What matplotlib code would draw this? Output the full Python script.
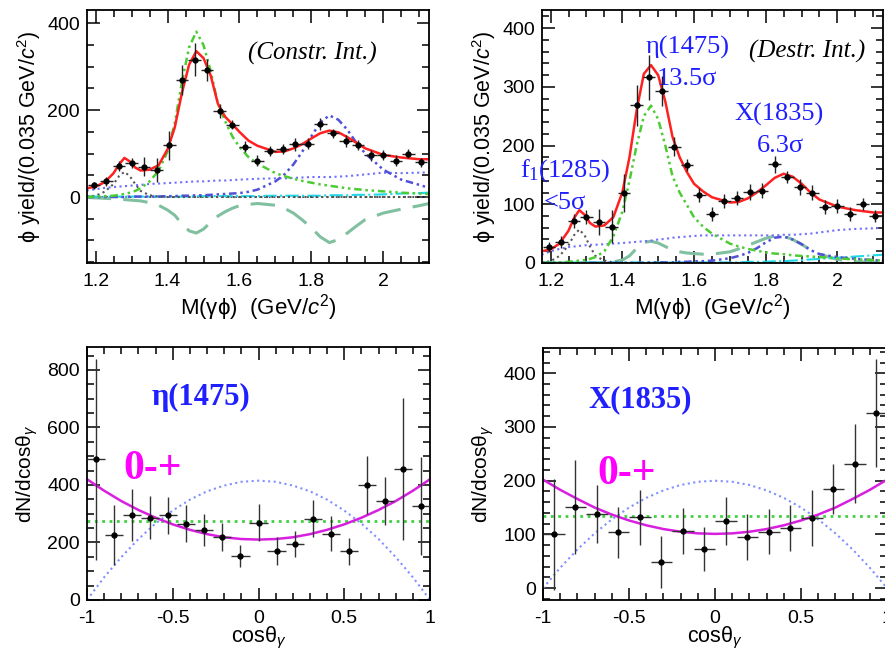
import matplotlib
matplotlib.use('Agg')
import matplotlib.pyplot as plt
from matplotlib.ticker import MultipleLocator, FuncFormatter

plt.rcParams['font.family'] = ['Liberation Sans', 'DejaVu Sans']
plt.rcParams['mathtext.fontset'] = 'custom'
plt.rcParams['mathtext.rm'] = 'Liberation Sans'
plt.rcParams['mathtext.it'] = 'Liberation Sans:italic'
plt.rcParams['mathtext.bf'] = 'Liberation Sans:bold'
plt.rcParams['axes.unicode_minus'] = False

# ---------------- dados: espectro de massa M(gamma phi) ----------------
m_bins = [1.195, 1.230, 1.265, 1.300, 1.335, 1.370, 1.405, 1.440, 1.475,
          1.510, 1.545, 1.580, 1.615, 1.650, 1.685, 1.720, 1.755, 1.790,
          1.825, 1.860, 1.895, 1.930, 1.965, 2.000, 2.035, 2.070, 2.105]
m_yield = [27, 36, 71, 78, 70, 62, 119, 269, 316, 293, 198, 167, 116, 84,
           106, 110, 121, 123, 168, 147, 129, 120, 96, 97, 84, 100, 80]
m_err = [8, 10, 12, 12, 22, 28, 33, 35, 38, 25, 16, 10, 12, 12, 12, 12, 14,
         13, 14, 10, 14, 12, 12, 12, 12, 10, 10]
m_halfbin = 0.0175

m_fit = [1.175, 1.2, 1.225, 1.25, 1.265, 1.28, 1.295, 1.31, 1.325, 1.35,
         1.375, 1.4, 1.42, 1.44, 1.46, 1.48, 1.5, 1.52, 1.54, 1.56, 1.58,
         1.6, 1.625, 1.65, 1.7, 1.725, 1.75, 1.775, 1.8, 1.825, 1.85, 1.875,
         1.9, 1.925, 1.95, 2.0, 2.05, 2.1, 2.127]

# interferencia construtiva
total_c = [20, 24, 34, 55, 75, 90, 82, 68, 61, 63, 73, 110, 160, 240, 305,
           336, 320, 280, 215, 185, 168, 150, 130, 118, 104, 105, 112, 122,
           135, 147, 153, 149, 138, 125, 112, 97, 91, 87, 87]
eta_c = [0, 1, 2, 3, 5, 7, 10, 14, 20, 36, 60, 105, 170, 265, 345, 381, 350,
         290, 215, 175, 140, 115, 92, 77, 55, 48, 42, 37, 33, 29, 26, 23, 20,
         18, 16, 13, 10, 8, 7]
f1_c = [1, 3, 12, 30, 48, 58, 48, 30, 14, 4, 1, 0, 0, 0, 0, 0, 0, 0, 0, 0,
        0, 0, 0, 0, 0, 0, 0, 0, 0, 0, 0, 0, 0, 0, 0, 0, 0, 0, 0]
x1835_c = [0, 0, 0, 0, 0, 0, 1, 1, 1, 1, 1, 2, 2, 3, 3, 4, 4, 5, 6, 7, 8, 9,
           12, 17, 36, 52, 75, 105, 140, 172, 188, 178, 155, 125, 100, 63,
           40, 28, 21]
bkg_c = [15, 18, 21, 23, 24, 25, 26, 27, 28, 30, 31, 32, 33, 34, 35, 36, 36,
         37, 38, 38, 39, 40, 41, 42, 43, 43, 44, 45, 46, 46, 46, 47, 48, 50,
         52, 56, 55, 56, 57]
other_c = [1, 1, 1, 1, 1, 1, 1, 1, 1, 1, 1, 1, 1, 1, 1, 2, 2, 2, 2, 2, 2, 2,
           2, 2, 3, 3, 3, 3, 3, 3, 4, 4, 4, 5, 5, 6, 8, 9, 10]
interf_c = [-1, -2, -3, -4, -5, -6, -7, -8, -9, -13, -19, -30, -42, -62, -78,
            -83, -74, -58, -44, -34, -26, -20, -17, -15, -19, -26, -37, -53,
            -71, -92, -105, -98, -83, -67, -52, -37, -28, -20, -15]

# interferencia destrutiva
total_d = [20, 23, 33, 55, 76, 90, 82, 68, 62, 64, 78, 120, 180, 260, 322,
           337, 320, 275, 215, 180, 155, 135, 122, 112, 103, 104, 110, 120,
           132, 145, 152, 147, 135, 120, 108, 96, 90, 86, 86]
eta_d = [0, 1, 1, 2, 3, 4, 5, 7, 10, 20, 45, 87, 140, 200, 250, 268, 245,
         200, 148, 120, 99, 78, 62, 50, 33, 28, 24, 21, 18, 16, 15, 13, 12,
         11, 10, 8, 6, 5, 4]
f1_d = [1, 3, 12, 30, 47, 57, 47, 28, 12, 4, 1, 0, 0, 0, 0, 0, 0, 0, 0, 0,
        0, 0, 0, 0, 0, 0, 0, 0, 0, 0, 0, 0, 0, 0, 0, 0, 0, 0, 0]
x1835_d = [0, 0, 0, 0, 0, 0, 0, 0, 0, 0, 0, 0, 0, 0, 0, 1, 1, 1, 1, 2, 2, 3,
           3, 4, 8, 12, 17, 25, 35, 43, 45, 40, 32, 22, 15, 10, 7, 5, 4]
bkg_d = [14, 20, 24, 27, 28, 29, 30, 31, 31, 32, 33, 34, 35, 36, 37, 38, 40,
         41, 43, 44, 45, 46, 47, 47, 47, 47, 47, 47, 47, 47, 48, 48, 49, 50,
         52, 56, 58, 59, 60]
other_d = [1, 1, 1, 1, 1, 1, 1, 1, 1, 1, 1, 1, 1, 1, 1, 1, 1, 1, 1, 1, 1, 1,
           1, 1, 1, 1, 2, 2, 2, 3, 3, 4, 5, 6, 7, 9, 11, 13, 14]
interf_d = [0, 0, 0, 0, 0, 0, 0, 0, 0, 1, 2, 5, 12, 25, 35, 37, 34, 28, 22,
            19, 17, 16, 15, 15, 19, 24, 30, 36, 42, 46, 46, 40, 32, 22, 15, 6,
            2, 1, 1]

# ---------------- dados: distribuicoes angulares ----------------
cos_eta = [-0.947, -0.842, -0.737, -0.632, -0.526, -0.421, -0.316, -0.211,
           -0.105, 0.0, 0.105, 0.211, 0.316, 0.421, 0.526, 0.632, 0.737,
           0.842, 0.947]
dn_eta = [489, 225, 296, 286, 294, 265, 243, 219, 153, 269, 170, 194, 283,
          231, 170, 399, 344, 457, 327]
dn_eta_err = [349, 105, 90, 75, 65, 65, 55, 50, 37, 65, 50, 45, 63, 62, 47,
              100, 83, 247, 170]
cos_eta_half = 0.0526

cos_x = [-0.9375, -0.8125, -0.6875, -0.5625, -0.4375, -0.3125, -0.1875,
         -0.0625, 0.0625, 0.1875, 0.3125, 0.4375, 0.5625, 0.6875, 0.8125,
         0.9375]
dn_x = [100, 151, 138, 104, 132, 49, 106, 73, 125, 95, 105, 112, 131, 185,
        232, 326]
dn_x_err = [103, 88, 54, 47, 51, 48, 43, 41, 45, 43, 42, 42, 52, 47, 74, 100]
cos_x_half = 0.0625

cos_fit = [-1.0, -0.9, -0.8, -0.7, -0.6, -0.5, -0.4, -0.3, -0.2, -0.1, 0.0,
           0.1, 0.2, 0.3, 0.4, 0.5, 0.6, 0.7, 0.8, 0.9, 1.0]
eta_0mp = [420, 380, 344, 313, 286, 263, 244, 229, 218, 212, 210, 212, 218,
           229, 244, 263, 286, 313, 344, 380, 420]
eta_alt = [0, 79, 149, 212, 266, 311, 349, 378, 398, 411, 415, 411, 398, 378,
           349, 311, 266, 212, 149, 79, 0]
eta_flat = 273
x_0mp = [202, 183, 166, 150, 137, 126, 117, 110, 105, 102, 101, 102, 105,
         110, 117, 126, 137, 150, 166, 183, 202]
x_alt = [0, 38, 72, 102, 128, 150, 168, 182, 192, 198, 200, 198, 192, 182,
         168, 150, 128, 102, 72, 38, 0]
x_flat = 135

# ---------------- figura ----------------
fig = plt.figure(figsize=(8.85, 6.54), dpi=100)
ax1 = fig.add_axes([0.0983, 0.5979, 0.3864, 0.3869])
ax2 = fig.add_axes([0.6124, 0.5979, 0.3853, 0.3869])
ax3 = fig.add_axes([0.0983, 0.0826, 0.3876, 0.3869])
ax4 = fig.add_axes([0.6136, 0.0826, 0.3887, 0.3853])

fmt = FuncFormatter(lambda v, p: '%g' % round(v, 3))
azul = '#1f1fff'
magenta = '#ff00ff'
serif = ['Liberation Serif', 'DejaVu Serif']


def estilo(ax, xmaj, xmin, ymaj, ymin):
    ax.xaxis.set_major_locator(MultipleLocator(xmaj))
    ax.xaxis.set_minor_locator(MultipleLocator(xmin))
    ax.yaxis.set_major_locator(MultipleLocator(ymaj))
    ax.yaxis.set_minor_locator(MultipleLocator(ymin))
    ax.xaxis.set_major_formatter(fmt)
    ax.yaxis.set_major_formatter(fmt)
    ax.tick_params(which='both', direction='in', top=True, right=True,
                   width=1.1, labelsize=14)
    ax.tick_params(which='major', length=9)
    ax.tick_params(which='minor', length=5)
    ax.tick_params(axis='x', pad=7)
    ax.tick_params(axis='y', pad=5)
    for s in ax.spines.values():
        s.set_linewidth(1.3)


def painel_massa(ax, total, eta, f1, x1835, bkg, other, interf):
    ax.plot(m_fit, interf, color='#80c0a0', lw=2.2, dashes=(8, 4))
    ax.plot(m_fit, other, color='#20d8e8', lw=1.5, ls='-.')
    ax.plot(m_fit, bkg, color='#7070ff', lw=1.5, ls=':')
    ax.plot(m_fit, x1835, color='#5050d8', lw=1.8, dashes=(3, 1.5, 1, 1.5, 1, 1.5))
    ax.plot(m_fit, f1, color='#555555', lw=1.5, ls=':')
    ax.plot(m_fit, eta, color='#4ccc33', lw=1.8, dashes=(3, 1.5, 1, 1.5, 1, 1.5))
    ax.plot(m_fit, total, color='#ff2020', lw=1.8)
    ax.errorbar(m_bins, m_yield, yerr=m_err, xerr=m_halfbin, fmt='o', ms=3.5,
                color='black', ecolor='#222222', elinewidth=1, capsize=0,
                zorder=5)
    ax.set_xlim(1.176, 2.127)
    ax.set_xlabel(r'M(γϕ)  (GeV/$\mathit{c}^{2}$)', fontsize=16, labelpad=2)
    ax.set_ylabel(r'ϕ yield/(0.035 GeV/$\mathit{c}^{2}$)', fontsize=15.5,
                  labelpad=3)


# painel 1: interferencia construtiva
painel_massa(ax1, total_c, eta_c, f1_c, x1835_c, bkg_c, other_c, interf_c)
ax1.axhline(0, color='#444444', lw=1.3, ls=':', zorder=1)
ax1.set_ylim(-152, 431)
estilo(ax1, 0.2, 0.05, 200, 50)
ax1.text(0.658, 0.83, '(Constr. Int.)', transform=ax1.transAxes, ha='center',
         va='center', fontsize=18, style='italic', family=serif)

# painel 2: interferencia destrutiva
painel_massa(ax2, total_d, eta_d, f1_d, x1835_d, bkg_d, other_d, interf_d)
ax2.set_ylim(0, 431)
estilo(ax2, 0.2, 0.05, 100, 20)
ax2.text(0.777, 0.834, '(Destr. Int.)', transform=ax2.transAxes, ha='center',
         va='center', fontsize=18, style='italic', family=serif)
for s, tx, ty in [('η(1475)', 0.428, 0.85), ('13.5σ', 0.425, 0.727),
                  ('X(1835)', 0.695, 0.585), ('6.3σ', 0.698, 0.462),
                  (r'f$\mathregular{_1}$(1285)', 0.067, 0.364),
                  ('<5σ', 0.067, 0.237)]:
    ax2.text(tx, ty, s, transform=ax2.transAxes, ha='center', va='center',
             fontsize=19, color=azul, family=serif)

# painel 3: eta(1475)
ax3.plot(cos_fit, eta_alt, color='#8090ff', lw=1.5, ls=':')
ax3.axhline(eta_flat, color='#40d040', lw=2, ls=':')
ax3.plot(cos_fit, eta_0mp, color='#d81fe0', lw=1.8)
ax3.errorbar(cos_eta, dn_eta, yerr=dn_eta_err, xerr=cos_eta_half, fmt='o',
             ms=3.5, color='black', ecolor='#333333', elinewidth=1, capsize=0,
             zorder=5)
ax3.set_xlim(-1, 1)
ax3.set_ylim(0, 880)
estilo(ax3, 0.5, 0.1, 200, 50)
ax3.set_xlabel(r'cosθ$_\gamma$', fontsize=15.5, labelpad=-1)
ax3.set_ylabel(r'dN/dcosθ$_\gamma$', fontsize=15, labelpad=5)
ax3.text(0.332, 0.802, 'η(1475)', transform=ax3.transAxes, ha='center',
         va='center', fontsize=22, weight='bold', color=azul, family=serif)
ax3.text(0.19, 0.518, '0-+', transform=ax3.transAxes, ha='center',
         va='center', fontsize=30, weight='bold', color=magenta, family=serif)

# painel 4: X(1835)
ax4.plot(cos_fit, x_alt, color='#8090ff', lw=1.5, ls=':')
ax4.axhline(x_flat, color='#40d040', lw=2, ls=':')
ax4.plot(cos_fit, x_0mp, color='#d81fe0', lw=1.8)
ax4.errorbar(cos_x, dn_x, yerr=dn_x_err, xerr=cos_x_half, fmt='o', ms=3.5,
             color='black', ecolor='#333333', elinewidth=1, capsize=0,
             zorder=5)
ax4.set_xlim(-1, 1)
ax4.set_ylim(-22, 447)
estilo(ax4, 0.5, 0.1, 100, 20)
ax4.set_xlabel(r'cosθ$_\gamma$', fontsize=15.5, labelpad=-1)
ax4.set_ylabel(r'dN/dcosθ$_\gamma$', fontsize=15, labelpad=5)
ax4.text(0.282, 0.794, 'X(1835)', transform=ax4.transAxes, ha='center',
         va='center', fontsize=22, weight='bold', color=azul, family=serif)
ax4.text(0.244, 0.5, '0-+', transform=ax4.transAxes, ha='center',
         va='center', fontsize=30, weight='bold', color=magenta, family=serif)

fig.savefig('out.png', dpi=100)
